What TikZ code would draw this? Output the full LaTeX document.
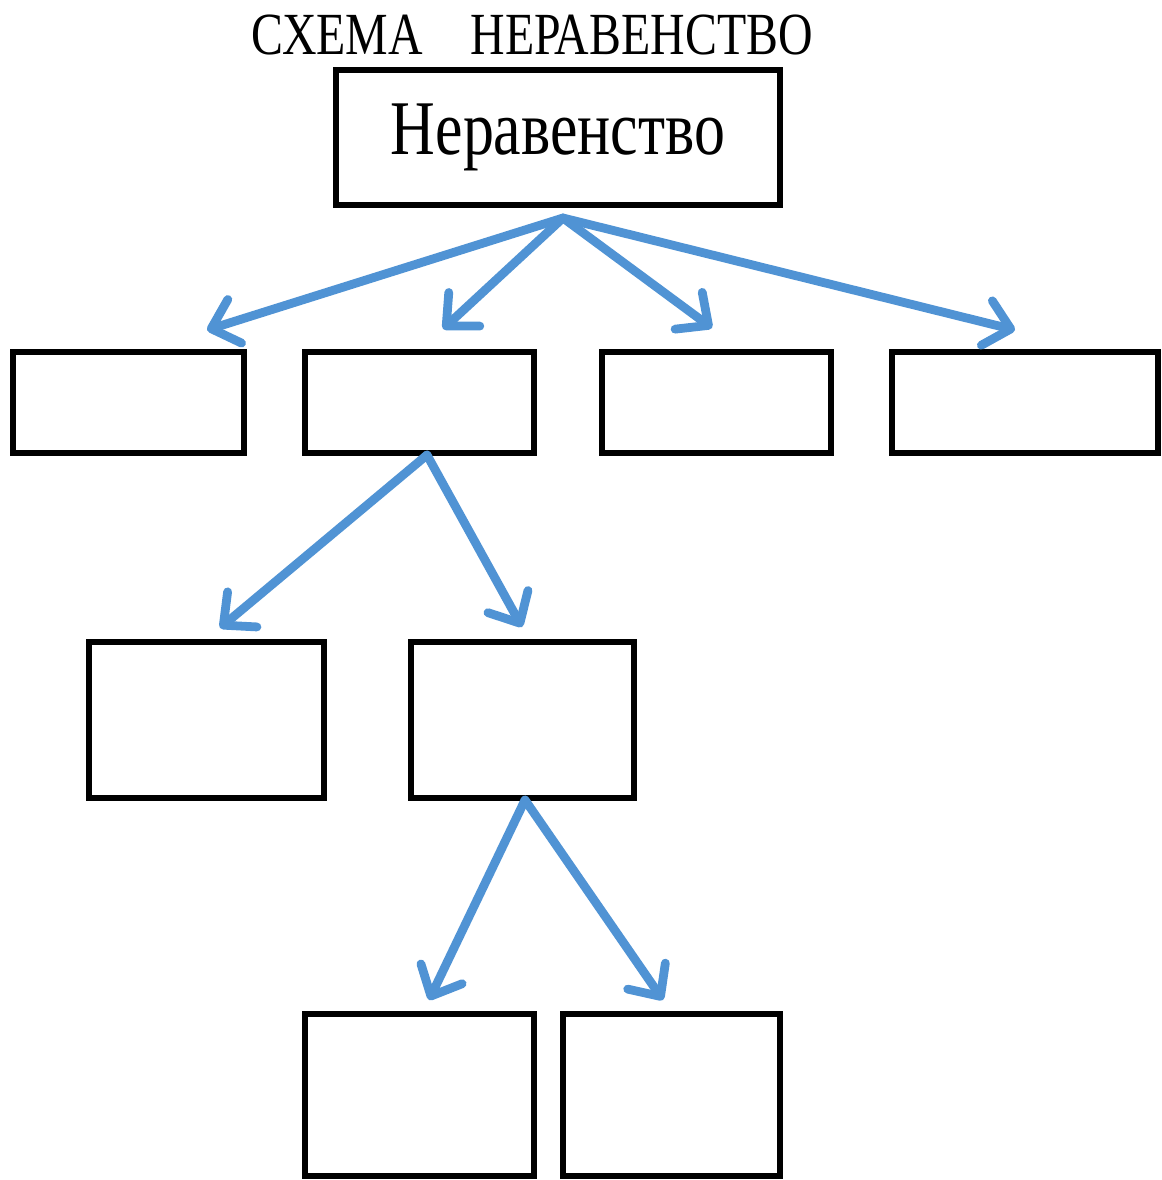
\documentclass[tikz,border=0pt]{standalone}
\usepackage{fontspec}
\setmainfont{Liberation Serif}
\definecolor{linkblue}{RGB}{80, 147, 212}
\usepackage{tikz}
\usetikzlibrary{arrows.meta, positioning, calc}
\newcommand{\hsquash}[1]{\scalebox{0.8}[1]{#1}}

\begin{document}
\begin{tikzpicture}[
  x=0.01cm, y=-0.01cm,
  cbox/.style 2 args={draw, line width=1.7pt, inner sep=0pt, minimum width=#1cm, minimum height=#2cm},
  link/.style={draw=linkblue, line width=2.5pt, line cap=round, -{Straight Barb[length=7pt, width=13pt, round]}}
]
  \useasboundingbox (0,0) rectangle (1161,1180);

  \node[anchor=base, font=\fontsize{17}{20}\selectfont] (title) at (532,55) {\hsquash{СХЕМА\hspace{1em}НЕРАВЕНСТВО}};
  \node[cbox={4.43}{1.34}, font=\fontsize{22}{26}\selectfont] (top) at (558,137.5) {\hsquash{Неравенство}};

  \node[cbox={2.30}{1.00}] (b1) at (128.5,402.5) {};
  \node[cbox={2.28}{1.00}] (b2) at (419.5,402.5) {};
  \node[cbox={2.28}{1.00}] (b3) at (716.5,402.5) {};
  \node[cbox={2.655}{1.00}] (b4) at (1025.25,402.5) {};

  \node[cbox={2.34}{1.55}] (c1) at (206.5,720) {};
  \node[cbox={2.22}{1.55}] (c2) at (522.5,720) {};

  \node[cbox={2.28}{1.61}] (d1) at (419.5,1095) {};
  \node[cbox={2.16}{1.61}] (d2) at (671.5,1095) {};

  \coordinate (ftop) at (563,218);
  \coordinate (tb1) at (207,330);
  \coordinate (tb2) at (443,329);
  \coordinate (tb3) at (712,328);
  \coordinate (tb4) at (1015,330);
  \draw[link] (ftop) -- (tb1);
  \draw[link] (ftop) -- (tb2);
  \draw[link] (ftop) -- (tb3);
  \draw[link] (ftop) -- (tb4);

  \coordinate (fb2) at (427,455);
  \coordinate (tc1) at (220,628);
  \coordinate (tc2) at (522,627);
  \draw[link] (fb2) -- (tc1);
  \draw[link] (fb2) -- (tc2);

  \coordinate (fc2) at (525,800);
  \coordinate (td1) at (429,1000);
  \coordinate (td2) at (663,1000);
  \draw[link] (fc2) -- (td1);
  \draw[link] (fc2) -- (td2);
\end{tikzpicture}
\end{document}
